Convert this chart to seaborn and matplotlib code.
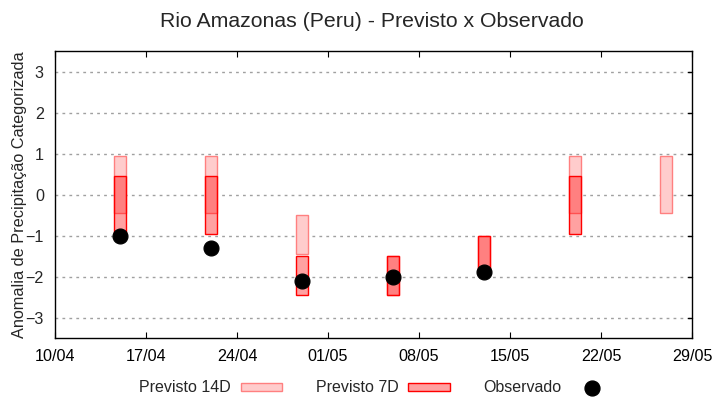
import numpy as np
import pandas as pd
import matplotlib
matplotlib.use("Agg")
import matplotlib.pyplot as plt
import matplotlib.dates as mdates
from matplotlib.patches import Patch
from matplotlib.lines import Line2D
import seaborn as sns

# Dados
datas = ["2024-04-15", "2024-04-22", "2024-04-29", "2024-05-06",
         "2024-05-13", "2024-05-20", "2024-05-27"]
prev14_min = [-0.45, -0.45, -1.45, -2.45, -1.95, -0.45, -0.45]
prev14_max = [0.95, 0.95, -0.50, -1.50, -1.00, 0.95, 0.95]
prev7_min = [-0.95, -0.95, -2.45, -2.45, -1.95, -0.95, np.nan]
prev7_max = [0.45, 0.45, -1.50, -1.50, -1.00, 0.45, np.nan]
observado = [-1.0, -1.3, -2.1, -2.0, -1.9, np.nan, np.nan]

df = pd.DataFrame({
    "data": pd.to_datetime(datas),
    "p14_min": prev14_min, "p14_max": prev14_max,
    "p7_min": prev7_min, "p7_max": prev7_max,
    "obs": observado,
})

sns.set_style("white")
plt.rcParams["font.family"] = ["Liberation Sans", "DejaVu Sans"]

fig = plt.figure(figsize=(7.2, 4.0), dpi=100)
ax = fig.add_axes([0.0764, 0.155, 0.8847, 0.717])

cor14_face = "#FFCCCC"
cor14_borda = "#FF8080"
cor7_face = (1.0, 0.0, 0.0, 0.37)
cor7_borda = "#FF0000"

largura = 0.9
ax.bar(df["data"], df["p14_max"] - df["p14_min"], bottom=df["p14_min"],
       width=largura, color=cor14_face, edgecolor=cor14_borda, linewidth=1, zorder=2)
ax.bar(df["data"], df["p7_max"] - df["p7_min"], bottom=df["p7_min"],
       width=largura, color=cor7_face, edgecolor=cor7_borda, linewidth=1, zorder=3)
sns.scatterplot(data=df, x="data", y="obs", ax=ax, color="black", s=115,
                edgecolor="black", zorder=4, legend=False)

ax.set_xlim(pd.Timestamp("2024-04-10"), pd.Timestamp("2024-05-29"))
ax.set_ylim(-3.5, 3.5)
ax.set_yticks([-3, -2, -1, 0, 1, 2, 3])
ax.set_xticks(pd.date_range("2024-04-10", "2024-05-29", freq="7D"))
ax.xaxis.set_major_formatter(mdates.DateFormatter("%d/%m"))

ax.grid(axis="y", color="#A0A0A0", linestyle=(0, (2, 3)), linewidth=1, zorder=1)
ax.grid(axis="x", visible=False)
for s in ax.spines.values():
    s.set_color("black")
    s.set_linewidth(1)

ax.tick_params(axis="x", direction="in", length=4, top=True, bottom=True,
               labelsize=11.6, pad=8, colors="black")
ax.tick_params(axis="y", direction="in", length=0, right=False, labelsize=11.6, pad=8)
# marcas internas no eixo direito (estilo gnuplot)
for y in [-3, -2, -1, 0, 1, 2, 3]:
    ax.plot([1, 0.993], [y, y], transform=ax.get_yaxis_transform(),
            color="black", linewidth=1, zorder=5, clip_on=False)

ax.set_xlabel("")
ax.set_ylabel("Anomalia de Precipitação Categorizada", fontsize=11.7)
ax.yaxis.set_label_coords(-0.044, 0.5)
fig.suptitle("Rio Amazonas (Peru) - Previsto x Observado", fontsize=15.3,
             x=0.517, y=0.97)

handles = [
    Patch(facecolor=cor14_face, edgecolor=cor14_borda, label="Previsto 14D"),
    Patch(facecolor=(1, 0.63, 0.63), edgecolor=cor7_borda, label="Previsto 7D"),
    Line2D([], [], marker="o", color="black", linestyle="none",
           markersize=10.7, label="Observado"),
]
fig.legend(handles=handles, loc="center", bbox_to_anchor=(0.522, 0.03),
           ncol=3, frameon=False, fontsize=11.5, markerfirst=False,
           handlelength=2.6, handleheight=0.45, handletextpad=0.6,
           columnspacing=2.1)

fig.savefig("out.png", dpi=100)
